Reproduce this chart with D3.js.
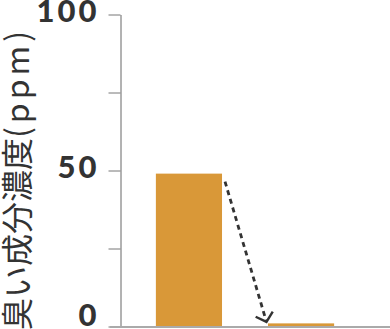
<!DOCTYPE html>
<html>
<head>
<meta charset="utf-8">
<script src="https://cdn.jsdelivr.net/npm/d3@7"></script>
<style>
  body { margin: 0; background: #fff; }
  svg { display: block; }
</style>
</head>
<body>
<div id="chart"></div>
<script>
// data
var categories = ["処理前", "処理後"];
var values = [49, 1];
var tickValues = [0, 25, 50, 75, 100];
var tickLabels = ["0", "", "50", "", "100"];
var yTitle = "臭い成分濃度";
var yUnit = "(ppm)";

var width = 390;
var height = 329;
var plotLeft = 120;
var plotTop = 14.5;
var plotBottom = 326.5;

var svg = d3.select("#chart")
  .append("svg")
    .attr("width", width)
    .attr("height", height);

var y = d3.scaleLinear()
  .domain([0, 100])
  .range([plotBottom, plotTop]);

var x = d3.scaleBand()
  .domain(categories)
  .range([plotLeft, 370])
  .paddingInner(0.41)
  .paddingOuter(0.32);

// y axis
var yAxis = svg.append("g")
  .attr("transform", "translate(" + (plotLeft + 0.5) + ",0)")
  .call(d3.axisLeft(y)
    .tickValues(tickValues)
    .tickFormat(function(d, i) { return tickLabels[i]; })
    .tickSize(12)
    .tickSizeOuter(0)
    .tickPadding(9));

yAxis.select(".domain").attr("stroke", "#666").attr("stroke-width", 1);
yAxis.selectAll(".tick line").attr("stroke", "#777").attr("stroke-width", 1);
yAxis.selectAll(".tick text")
  .attr("fill", "#333")
  .attr("y", function(d) { return d === 0 ? -11 : -2.5; })
  .style("font-family", "Lato, 'Open Sans', sans-serif")
  .style("font-weight", "900")
  .style("font-size", "31px")
  .style("letter-spacing", "3px");

// bars
svg.selectAll("rect.bar")
  .data(values)
  .enter().append("rect")
    .attr("class", "bar")
    .attr("x", function(d, i) { return x(categories[i]); })
    .attr("y", function(d) { return y(d); })
    .attr("width", x.bandwidth())
    .attr("height", function(d) { return y(0) - y(d); })
    .style("fill", "#d99838");

// baseline
svg.append("line")
  .attr("x1", plotLeft - 10)
  .attr("x2", width)
  .attr("y1", y(0) + 0.5)
  .attr("y2", y(0) + 0.5)
  .attr("stroke", "#aaa")
  .attr("stroke-width", 2);

// dashed arrow from bar 1 to bar 2
var x1 = x(categories[0]) + x.bandwidth() + 3;
var y1 = y(values[0]) + 8;
var x2 = x(categories[1]) - 1.5;
var y2 = y(values[1]) - 1.5;

svg.append("line")
  .attr("x1", x1).attr("y1", y1)
  .attr("x2", x2).attr("y2", y2)
  .attr("stroke", "#333")
  .attr("stroke-width", 2.8)
  .attr("stroke-dasharray", "5,4");

var ang = Math.atan2(y1 - y2, x1 - x2);
var armLen = 12;
var spread = 48 * Math.PI / 180;
var head = d3.path();
head.moveTo(x2 + armLen * Math.cos(ang - spread), y2 + armLen * Math.sin(ang - spread));
head.lineTo(x2, y2);
head.lineTo(x2 + armLen * Math.cos(ang + spread), y2 + armLen * Math.sin(ang + spread));
svg.append("path")
  .attr("d", head.toString())
  .attr("fill", "none")
  .attr("stroke", "#333")
  .attr("stroke-width", 2.4);

// y title
var title = svg.append("text")
  .attr("transform", "translate(29," + 330 + ") rotate(-90)")
  .attr("text-anchor", "start")
  .style("font-family", "'Noto Sans CJK JP', sans-serif")
  .style("font-size", "32px")
  .style("fill", "#333");
title.append("tspan").text(yTitle);
title.append("tspan").style("letter-spacing", "4px").text(yUnit);
</script>
</body>
</html>
